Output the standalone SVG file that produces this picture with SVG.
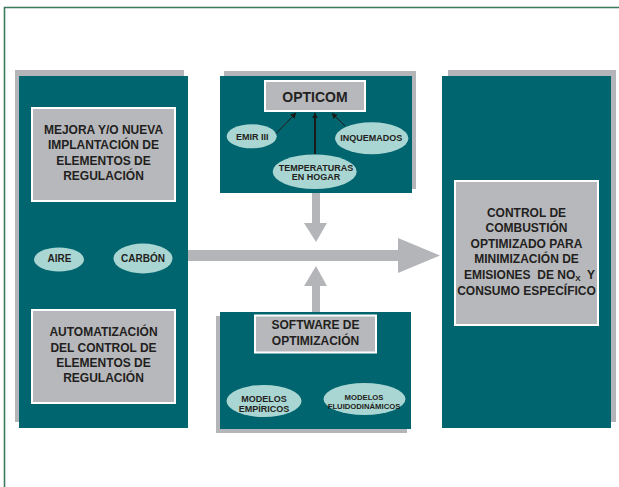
<svg xmlns="http://www.w3.org/2000/svg" width="619" height="487" viewBox="0 0 619 487">
<style>
.shadow{fill:#b4b5b9}
.panel{fill:#00656f}
.box{fill:#b7b8bc;stroke:#ffffff;stroke-width:2}
.ell{fill:#a9d6d3}
.t{font-family:"Liberation Sans",Arial,sans-serif;font-weight:bold;fill:#231f20;text-anchor:middle}
.t12{font-size:12px}
.t10{font-size:10px}
.t9{font-size:9px}
.big{fill:#b4b5b9}
.thin{stroke:#1a1a1a;stroke-width:1;fill:none}
</style>
<defs>
<marker id="ah" viewBox="0 0 10 10" refX="9" refY="5" markerWidth="6" markerHeight="6" markerUnits="userSpaceOnUse" orient="auto">
<path d="M0,0 L10,5 L0,10 z" fill="#1a1a1a"/>
</marker>
</defs>
<rect width="619" height="487" fill="#ffffff"/>
<path d="M4.5,487 V7.5 H619" fill="none" stroke="#3b7a5c" stroke-width="1.6"/>

<g id="connectors">
<rect class="big" x="185" y="250" width="214" height="11"/>
<polygon class="big" points="398,238 440,255.5 398,273"/>
<rect class="big" x="312" y="190" width="8" height="34"/>
<polygon class="big" points="304,223 327,223 316,242"/>
<rect class="big" x="312" y="285" width="8" height="28"/>
<polygon class="big" points="304,286 327,286 316,266"/>
</g>

<g id="left-block">
<rect class="shadow" x="15" y="70" width="169" height="352"/>
<rect class="panel" x="19" y="76" width="169" height="352"/>
</g>
<g id="mejora">
<rect class="box" x="32" y="108" width="143" height="93"/>
<text class="t t12" x="103.5" y="134">MEJORA Y/O NUEVA</text>
<text class="t t12" x="103.5" y="149.3">IMPLANTACIÓN DE</text>
<text class="t t12" x="103.5" y="164.6">ELEMENTOS DE</text>
<text class="t t12" x="103.5" y="180">REGULACIÓN</text>
</g>
<g id="aire">
<ellipse class="ell" cx="59" cy="259.5" rx="25" ry="12"/>
<text class="t t10" x="59.5" y="262">AIRE</text>
</g>
<g id="carbon">
<ellipse class="ell" cx="143" cy="258.5" rx="29.5" ry="15"/>
<text class="t t10" x="143" y="262.3">CARBÓN</text>
</g>
<g id="automatizacion">
<rect class="box" x="32" y="310" width="143" height="93"/>
<text class="t t12" x="103.5" y="336">AUTOMATIZACIÓN</text>
<text class="t t12" x="103.5" y="351.5">DEL CONTROL DE</text>
<text class="t t12" x="103.5" y="367">ELEMENTOS DE</text>
<text class="t t12" x="103.5" y="382.3">REGULACIÓN</text>
</g>

<g id="opticom-block">
<rect class="shadow" x="224" y="71" width="192" height="118"/>
<rect class="panel" x="220" y="76" width="192" height="117"/>
</g>
<g id="opticom">
<rect class="box" x="265" y="81" width="100" height="30"/>
<text class="t" style="font-size:14px" x="315" y="101.5">OPTICOM</text>
</g>
<g id="emir">
<ellipse class="ell" cx="251.7" cy="136.3" rx="25" ry="12"/>
<text class="t t9" x="252.3" y="140">EMIR III</text>
</g>
<g id="inquemados">
<ellipse class="ell" cx="371.7" cy="138.3" rx="36.7" ry="16"/>
<text class="t t9" x="371.3" y="141">INQUEMADOS</text>
</g>
<g id="temperaturas">
<ellipse class="ell" cx="314.7" cy="171.7" rx="42" ry="17.3"/>
<text class="t t9" x="316" y="171">TEMPERATURAS</text>
<text class="t t9" x="316" y="180.3">EN HOGAR</text>
</g>
<g id="opticom-connectors">
<line class="thin" x1="276" y1="133.5" x2="296" y2="113" marker-end="url(#ah)"/>
<line x1="315" y1="154" x2="315" y2="113" stroke="#1a1a1a" stroke-width="2" marker-end="url(#ah)"/>
<line class="thin" x1="345" y1="126" x2="332" y2="113.3" marker-end="url(#ah)"/>
</g>

<g id="software-block">
<rect class="shadow" x="216" y="316" width="191" height="117"/>
<rect class="panel" x="220" y="312" width="191" height="117"/>
</g>
<g id="software">
<rect class="box" x="255" y="315.5" width="121" height="37"/>
<text class="t t12" x="315.5" y="328.5">SOFTWARE DE</text>
<text class="t t12" x="315.5" y="345">OPTIMIZACIÓN</text>
</g>
<g id="empiricos">
<ellipse class="ell" cx="264" cy="401" rx="37.5" ry="16"/>
<text class="t t9" x="264" y="401.7">MODELOS</text>
<text class="t t9" x="264" y="411.7">EMPÍRICOS</text>
</g>
<g id="fluidodinamicos">
<ellipse class="ell" cx="364.5" cy="399" rx="41" ry="16"/>
<text class="t" style="font-size:7.7px" x="364" y="400">MODELOS</text>
<text class="t" style="font-size:7.7px" x="364" y="409.3">FLUIDODINÁMICOS</text>
</g>

<g id="right-block">
<rect class="shadow" x="448" y="70" width="168" height="352"/>
<rect class="panel" x="442" y="76" width="169" height="352"/>
</g>
<g id="control">
<rect class="box" x="455" y="181" width="143" height="144"/>
<text class="t t12" x="526.5" y="216.7">CONTROL DE</text>
<text class="t t12" x="526.5" y="232.3">COMBUSTIÓN</text>
<text class="t t12" x="526.5" y="247.8">OPTIMIZADO PARA</text>
<text class="t t12" x="526.5" y="263.3">MINIMIZACIÓN DE</text>
<text class="t t12" x="529.5" y="279" xml:space="preserve">EMISIONES  DE NO<tspan style="font-size:8px" dy="2">X</tspan><tspan dy="-2">  Y</tspan></text>
<text class="t t12" x="526.5" y="295">CONSUMO ESPECÍFICO</text>
</g>
</svg>
